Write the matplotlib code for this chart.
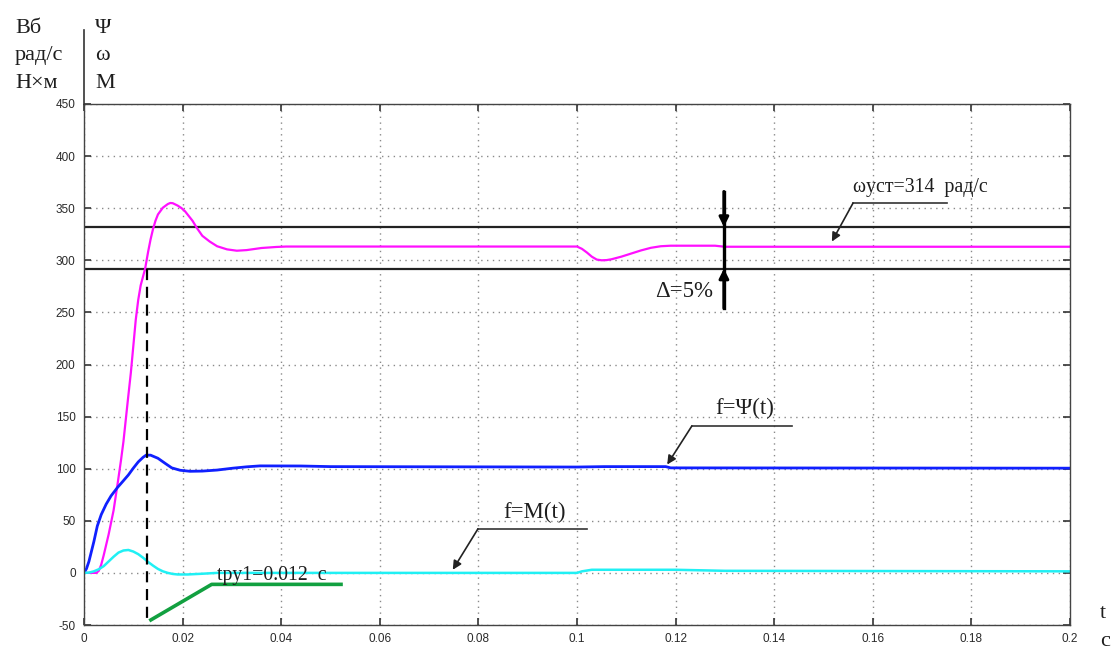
import matplotlib
matplotlib.use("Agg")
import matplotlib.pyplot as plt
from matplotlib.ticker import FixedLocator, FixedFormatter

# --- transient response data (time in s) ---
t_omega = [0, 0.0025, 0.003, 0.0035, 0.004, 0.0045, 0.005, 0.006, 0.0068,
           0.0075, 0.008, 0.0089, 0.0095, 0.0105, 0.011, 0.0115, 0.0124,
           0.013, 0.0135, 0.014, 0.0145, 0.015, 0.016, 0.017, 0.0175,
           0.018, 0.019, 0.0198, 0.0205, 0.022, 0.0229, 0.024, 0.0255,
           0.027, 0.029, 0.031, 0.033, 0.036, 0.039, 0.041,
           0.1, 0.101, 0.102, 0.103, 0.104, 0.105, 0.106, 0.107, 0.109,
           0.111, 0.113, 0.115, 0.117, 0.119, 0.128, 0.13, 0.2]
omega = [0, 0, 2, 8, 17, 27, 37, 60, 85,
         108, 126, 166, 192, 243, 262, 276, 292,
         308, 320, 330, 338, 344, 350.5, 354, 355,
         354.8, 352.5, 350, 347, 338, 331, 323.5, 318,
         313.5, 310.5, 309.2, 309.8, 311.8, 312.8, 313.2,
         313.2, 311, 307.5, 303.5, 300.7, 300, 300.2, 301, 303.5,
         306.5, 309.5, 312, 313.5, 314, 314, 313, 313]

t_psi = [0, 0.0005, 0.001, 0.002, 0.0027, 0.0035, 0.0045, 0.0055, 0.0068,
         0.008, 0.009, 0.010, 0.011, 0.012, 0.0126, 0.0135, 0.015, 0.0165,
         0.0178, 0.0195, 0.0215, 0.024, 0.027, 0.0302, 0.033, 0.0357,
         0.044, 0.05, 0.1, 0.1055, 0.118, 0.119, 0.2]
psi = [0, 4, 11, 30, 45, 56, 66, 74, 82,
       88.5, 94, 100.5, 106.5, 111, 113, 113, 110, 105,
       100.8, 98.5, 97.5, 97.7, 98.7, 100.5, 101.8, 102.7,
       102.6, 102, 101.6, 102, 102, 100.8, 100.5]

t_m = [0, 0.001, 0.002, 0.003, 0.004, 0.005, 0.006, 0.007, 0.008, 0.009,
       0.010, 0.011, 0.012, 0.013, 0.014, 0.015, 0.016, 0.017, 0.018,
       0.019, 0.021, 0.024, 0.027, 0.1, 0.101, 0.103, 0.12, 0.13, 0.2]
moment = [0, 0.3, 1.5, 3.5, 6.5, 11, 15.5, 19.5, 21.5, 22,
          20.5, 18, 14.5, 10.5, 7, 3.8, 1.5, 0, -1,
          -1.5, -1.5, -0.8, 0, 0, 1.5, 3, 3, 2, 1.5]

# 5 % band around the steady-state speed
band_upper = 332
band_lower = 292

# settling time marker
t_settle = 0.0127
settle_marker_t = [0.01325, 0.0259, 0.0525]
settle_marker_v = [-46, -11, -11]

x_ticks = [0, 0.02, 0.04, 0.06, 0.08, 0.1, 0.12, 0.14, 0.16, 0.18, 0.2]
x_tick_labels = ["0", "0.02", "0.04", "0.06", "0.08", "0.1", "0.12", "0.14",
                 "0.16", "0.18", "0.2"]
y_ticks = [-50, 0, 50, 100, 150, 200, 250, 300, 350, 400, 450]
y_tick_labels = [str(v) for v in y_ticks]

serif = ["Liberation Serif", "DejaVu Serif"]
ink = "#1e1e1e"

fig = plt.figure(figsize=(11.2, 6.51), dpi=100)
ax = fig.add_axes([84 / 1120, 26 / 651, 986 / 1120, 521 / 651])

ax.set_xlim(0, 0.2)
ax.set_ylim(-50, 450)
ax.xaxis.set_major_locator(FixedLocator(x_ticks))
ax.xaxis.set_major_formatter(FixedFormatter(x_tick_labels))
ax.yaxis.set_major_locator(FixedLocator(y_ticks))
ax.yaxis.set_major_formatter(FixedFormatter(y_tick_labels))
ax.tick_params(direction="in", length=5, width=1.2, colors="#333333",
               labelsize=8.5, top=True, right=True, pad=6)
for lab in ax.get_xticklabels() + ax.get_yticklabels():
    lab.set_fontfamily("Liberation Sans")
    lab.set_color("#2a2a2a")
ax.grid(True, color="#8a8a8a", linestyle=(0, (1, 3.2)), linewidth=1.0)
for sp in ax.spines.values():
    sp.set_color("#444444")
    sp.set_linewidth(1.0)

# band lines
ax.axhline(band_upper, color="#222222", lw=1.6)
ax.axhline(band_lower, color="#222222", lw=1.6)

# curves
ax.plot(t_omega, omega, color="#ff10ff", lw=1.6)
ax.plot(t_psi, psi, color="#1020ff", lw=2.0)
ax.plot(t_m, moment, color="#20f0f4", lw=1.8)

# settling time construction
ax.plot([t_settle, t_settle], [band_lower, -47], color="black", lw=1.6,
        linestyle=(0, (5, 3)))
ax.plot(settle_marker_t, settle_marker_v, color="#12a040", lw=2.6,
        solid_capstyle="butt")
ax.text(0.0270, -6.7, "tpy1=0.012  c", fontsize=14.2, family=serif,
        color=ink)

# 5 % band arrows
arrow_kw = dict(arrowstyle="-|>", color="black", lw=2.2, mutation_scale=14,
                shrinkA=0, shrinkB=0)
ax.plot([0.1298, 0.1298], [366, 254], color="black", lw=2.4)
ax.annotate("", xy=(0.1298, band_upper), xytext=(0.1298, 366),
            arrowprops=arrow_kw)
ax.annotate("", xy=(0.1298, band_lower), xytext=(0.1298, 254),
            arrowprops=arrow_kw)
ax.text(0.1158, 265, "Δ=5%", fontsize=16.5, family=serif, color=ink)

# leader-line callouts
lead_kw = dict(arrowstyle="-|>", color="#222222", lw=1.2, mutation_scale=13,
               shrinkA=0, shrinkB=0)


def callout(text, tx, ty, x0, x1, yl, tip, size):
    ax.plot([x0, x1], [yl, yl], color="#333333", lw=1.2)
    ax.annotate("", xy=tip, xytext=(x0, yl), arrowprops=lead_kw)
    ax.text(tx, ty, text, fontsize=size, family=serif, color=ink)


callout("ωуст=314  рад/с", 0.1560, 365.6, 0.1560, 0.1750, 355,
        (0.1517, 318), 14.3)
callout("f=Ψ(t)", 0.1280, 152.6, 0.1233, 0.1436, 141, (0.1183, 104), 16.5)
callout("f=M(t)", 0.0850, 52.8, 0.0799, 0.1020, 42.2, (0.0748, 3), 16.5)

# axis captions
fig.text(1103 / 1120, 1 - 613 / 651, "t", fontsize=16, family=serif,
         ha="center", va="center", color=ink)
fig.text(1105 / 1120, 1 - 641 / 651, "с", fontsize=16, family=serif,
         ha="center", va="center", color=ink)

units = ["Вб", "рад/с", "Н×м"]
names = ["Ψ", "ω", "М"]
baselines = [33, 60, 88]
for u, n, b in zip(units, names, baselines):
    fig.text(15 / 1120, 1 - b / 651, u, fontsize=16, family=serif,
             ha="left", va="baseline", color=ink)
    fig.text(95 / 1120, 1 - b / 651, n, fontsize=16, family=serif,
             ha="left", va="baseline", color=ink)
fig.add_artist(plt.Line2D([83.5 / 1120, 83.5 / 1120],
                          [1 - 30 / 651, 1 - 104 / 651],
                          color="#333333", lw=1.2))

fig.savefig("out.png", dpi=100)
